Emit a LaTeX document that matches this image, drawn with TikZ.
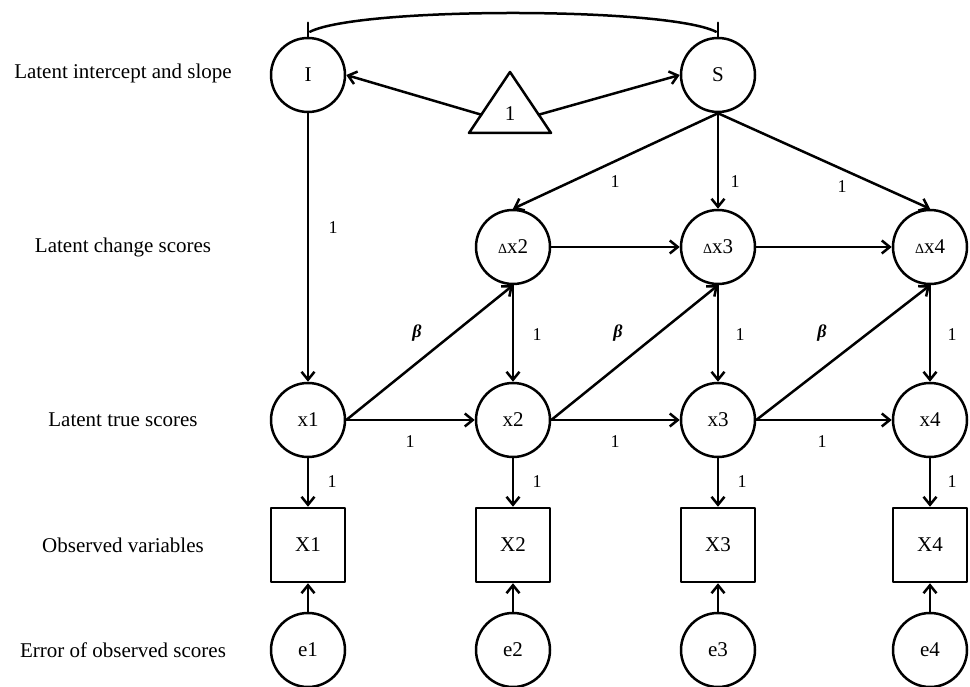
\documentclass[tikz,border=0pt]{standalone}
\usepackage{fontspec}
\setmainfont{Liberation Serif}
\usetikzlibrary{arrows.meta,calc}
\begin{document}
\begin{tikzpicture}[>={Straight Barb[length=8pt,width=13pt]}, line join=round, line cap=round, x=1pt, y=1pt, line width=2.5pt, font=\fontsize{21}{25}\selectfont,
	lat/.style={draw, circle, minimum size=74pt, inner sep=0pt},
	obs/.style={draw, rectangle, minimum size=74pt, inner sep=0pt},
	lbl/.style={font=\fontsize{18}{20}\selectfont, inner sep=1pt}]
	\useasboundingbox (0,0) rectangle (970,687);
	% row names
	\path (123,614) node (r1) {Latent intercept and slope};
	\path (123,440) node (r2) {Latent change scores};
	\path (123,267) node (r3) {Latent true scores};
	\path (123,142) node (r4) {Observed variables};
	\path (123,37) node (r5) {Error of observed scores};
	% nodes
	\path (308,612) node[lat] (I) {I};
	\path (718,612) node[lat] (S) {S};
	\path (513,440) node[lat] (dx2) {{\fontsize{14}{14}\selectfont Δ}x2};
	\path (718,440) node[lat] (dx3) {{\fontsize{14}{14}\selectfont Δ}x3};
	\path (930,440) node[lat] (dx4) {{\fontsize{14}{14}\selectfont Δ}x4};
	\path (308,267) node[lat] (x1) {x1};
	\path (513,267) node[lat] (x2) {x2};
	\path (718,267) node[lat] (x3) {x3};
	\path (930,267) node[lat] (x4) {x4};
	\path (308,142) node[obs] (X1) {X1};
	\path (513,142) node[obs] (X2) {X2};
	\path (718,142) node[obs] (X3) {X3};
	\path (930,142) node[obs] (X4) {X4};
	\path (308,37) node[lat] (e1) {e1};
	\path (513,37) node[lat] (e2) {e2};
	\path (718,37) node[lat] (e3) {e3};
	\path (930,37) node[lat] (e4) {e4};
	% constant
	\coordinate (tA) at (510,615);
	\coordinate (tL) at (469,554);
	\coordinate (tR) at (551,554);
	\draw (tL) -- (tA) -- (tR) -- cycle;
	\path (510,573) node (one) {1};
	\coordinate (tl) at ($(tL)!.3!(tA)$);
	\coordinate (tr) at ($(tR)!.3!(tA)$);
	\draw[->] (tl) -- (I.east);
	\draw[->] (tr) -- (S.west);
	% covariance I, S
	\draw (I.north) -- ++(0,14);
	\draw (S.north) -- ++(0,14);
	\draw ($(I.north)+(2,5)$) .. controls +(50,25) and +(-50,25) .. ($(S.north)+(-2,5)$);
	% paths
	\draw[->] (I) -- (x1);
	\draw[->] (S.south) -- (dx2.north);
	\draw[->] (S) -- (dx3);
	\draw[->] (S.south) -- (dx4.north);
	\draw[->] (dx2) -- (dx3);
	\draw[->] (dx3) -- (dx4);
	\draw[->] (dx2) -- (x2);
	\draw[->] (dx3) -- (x3);
	\draw[->] (dx4) -- (x4);
	\draw[->] (x1.east) -- (dx2.south);
	\draw[->] (x2.east) -- (dx3.south);
	\draw[->] (x3.east) -- (dx4.south);
	\draw[->] (x1) -- (x2);
	\draw[->] (x2) -- (x3);
	\draw[->] (x3) -- (x4);
	\draw[->] (x1) -- (X1);
	\draw[->] (x2) -- (X2);
	\draw[->] (x3) -- (X3);
	\draw[->] (x4) -- (X4);
	\draw[->] (e1) -- (X1);
	\draw[->] (e2) -- (X2);
	\draw[->] (e3) -- (X3);
	\draw[->] (e4) -- (X4);
	% loadings
	\path (333,459) node[lbl] (lIx) {1};
	\path (615,505) node[lbl] (lS2) {1};
	\path (735,505) node[lbl] (lS3) {1};
	\path (842,500) node[lbl] (lS4) {1};
	\path (537,352) node[lbl] (ld2) {1};
	\path (740,352) node[lbl] (ld3) {1};
	\path (952,352) node[lbl] (ld4) {1};
	\path (417,354) node[lbl] (b2) {\textbf{\textit{β}}};
	\path (618,354) node[lbl] (b3) {\textbf{\textit{β}}};
	\path (822,354) node[lbl] (b4) {\textbf{\textit{β}}};
	\path (410,245) node[lbl] (lx2) {1};
	\path (615,245) node[lbl] (lx3) {1};
	\path (822,245) node[lbl] (lx4) {1};
	\path (332,205) node[lbl] (lX1) {1};
	\path (537,205) node[lbl] (lX2) {1};
	\path (742,205) node[lbl] (lX3) {1};
	\path (952,205) node[lbl] (lX4) {1};
\end{tikzpicture}
\end{document}
